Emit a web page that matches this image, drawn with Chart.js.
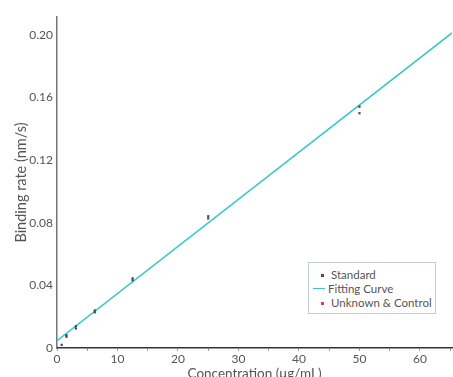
<!DOCTYPE html>
<html><head><meta charset="utf-8">
<script src="https://cdn.jsdelivr.net/npm/chart.js@4/dist/chart.umd.min.js"></script>
<style>
html,body{margin:0;padding:0;background:#fff;overflow:hidden;}
#wrap{position:relative;width:453px;height:377px;overflow:hidden;}
#legend{position:absolute;left:308px;top:262px;width:128px;height:52px;border:1px solid #c3ced6;background:#fff;box-sizing:border-box;font-family:Lato,"Open Sans",sans-serif;font-size:11.5px;color:#555;padding:5px 0 0 4px;line-height:14px;}
#legend div{white-space:nowrap;}
.dot{display:inline-block;width:3px;height:3px;margin:0 7px 2px 8px;vertical-align:middle;}
.ln{display:inline-block;width:12px;height:0;border-top:1.5px solid #3cc6c6;margin:0 3px 3px 0;vertical-align:middle;}
</style></head><body>
<div id="wrap"><canvas id="c" width="456" height="377"></canvas>
<div id="legend">
<div><span class="dot" style="background:#4a4a5a"></span>Standard</div>
<div><span class="ln"></span>Fitting Curve</div>
<div><span class="dot" style="background:#e0307a"></span>Unknown &amp; Control</div>
</div></div>
<script>
const concentrations = [0.78, 1.5625, 1.5625, 3.125, 3.125, 6.25, 6.25, 12.5, 12.5, 25, 25, 50, 50];
const bindingRates   = [0.0020, 0.0072, 0.0082, 0.0125, 0.0139, 0.0228, 0.0240, 0.0433, 0.0445, 0.0828, 0.0842, 0.1500, 0.1542];
const fitX = [0, 65.3];
const fitY = [0.0047, 0.2013];
const unknownX = [0];
const unknownY = [0];
const xTicks = [0,5,10,15,20,25,30,35,40,45,50,55,60,65];
const yTicks = [0,0.04,0.08,0.12,0.16,0.20];

const font = {family:'Lato, "Open Sans", sans-serif', size:12};
new Chart(document.getElementById('c'), {
  type:'scatter',
  data:{datasets:[
    {label:'Fitting Curve', type:'line', data:fitX.map((x,i)=>({x, y:fitY[i]})), borderColor:'#3cc6c6', borderWidth:1.5, pointRadius:0, fill:false, order:2},
    {label:'Standard', data:concentrations.map((x,i)=>({x, y:bindingRates[i]})), pointStyle:'rect', pointRadius:1.6, backgroundColor:'#4a4a5a', borderColor:'#4a4a5a', borderWidth:0, order:1},
    {label:'Unknown & Control', data:unknownX.map((x,i)=>({x, y:unknownY[i]})), pointStyle:'rect', pointRadius:1.6, backgroundColor:'#8a1a40', borderColor:'#8a1a40', borderWidth:0, order:0}
  ]},
  options:{
    responsive:false, animation:false,
    layout:{padding:{top:17,right:0,left:13,bottom:0}},
    plugins:{legend:{display:false}, tooltip:{enabled:false}},
    scales:{
      x:{type:'linear', min:0, max:65.3,
        afterBuildTicks:s=>{s.ticks=xTicks.map(v=>({value:v}));},
        afterFit:s=>{s.height=29; s.paddingRight=0; s.paddingLeft=0;},
        ticks:{callback:v=>(v%10===0?String(v):''), color:'#555', font, padding:1, maxRotation:0, autoSkip:false},
        grid:{drawOnChartArea:false, tickLength:3, color:'#999', tickColor:'#999'},
        border:{color:'#333', width:1.5},
        title:{display:true, text:'Concentration (μg/mL)', color:'#555', font:{family:font.family,size:13.5}, padding:{top:0,bottom:-5}}
      },
      y:{type:'linear', min:0, max:0.2115,
        afterBuildTicks:s=>{s.ticks=yTicks.map(v=>({value:v}));},
        afterFit:s=>{s.width=44;},
        ticks:{callback:v=>(v===0?'0':v.toFixed(2)), color:'#555', font, padding:4},
        grid:{display:true, drawOnChartArea:false, tickLength:0, color:'#777'},
        border:{color:'#777', width:1.5},
        title:{display:true, text:'Binding rate (nm/s)', color:'#555', font:{family:font.family,size:14.5}, padding:{top:0,bottom:0}}
      }
    }
  }
});
</script></body></html>
